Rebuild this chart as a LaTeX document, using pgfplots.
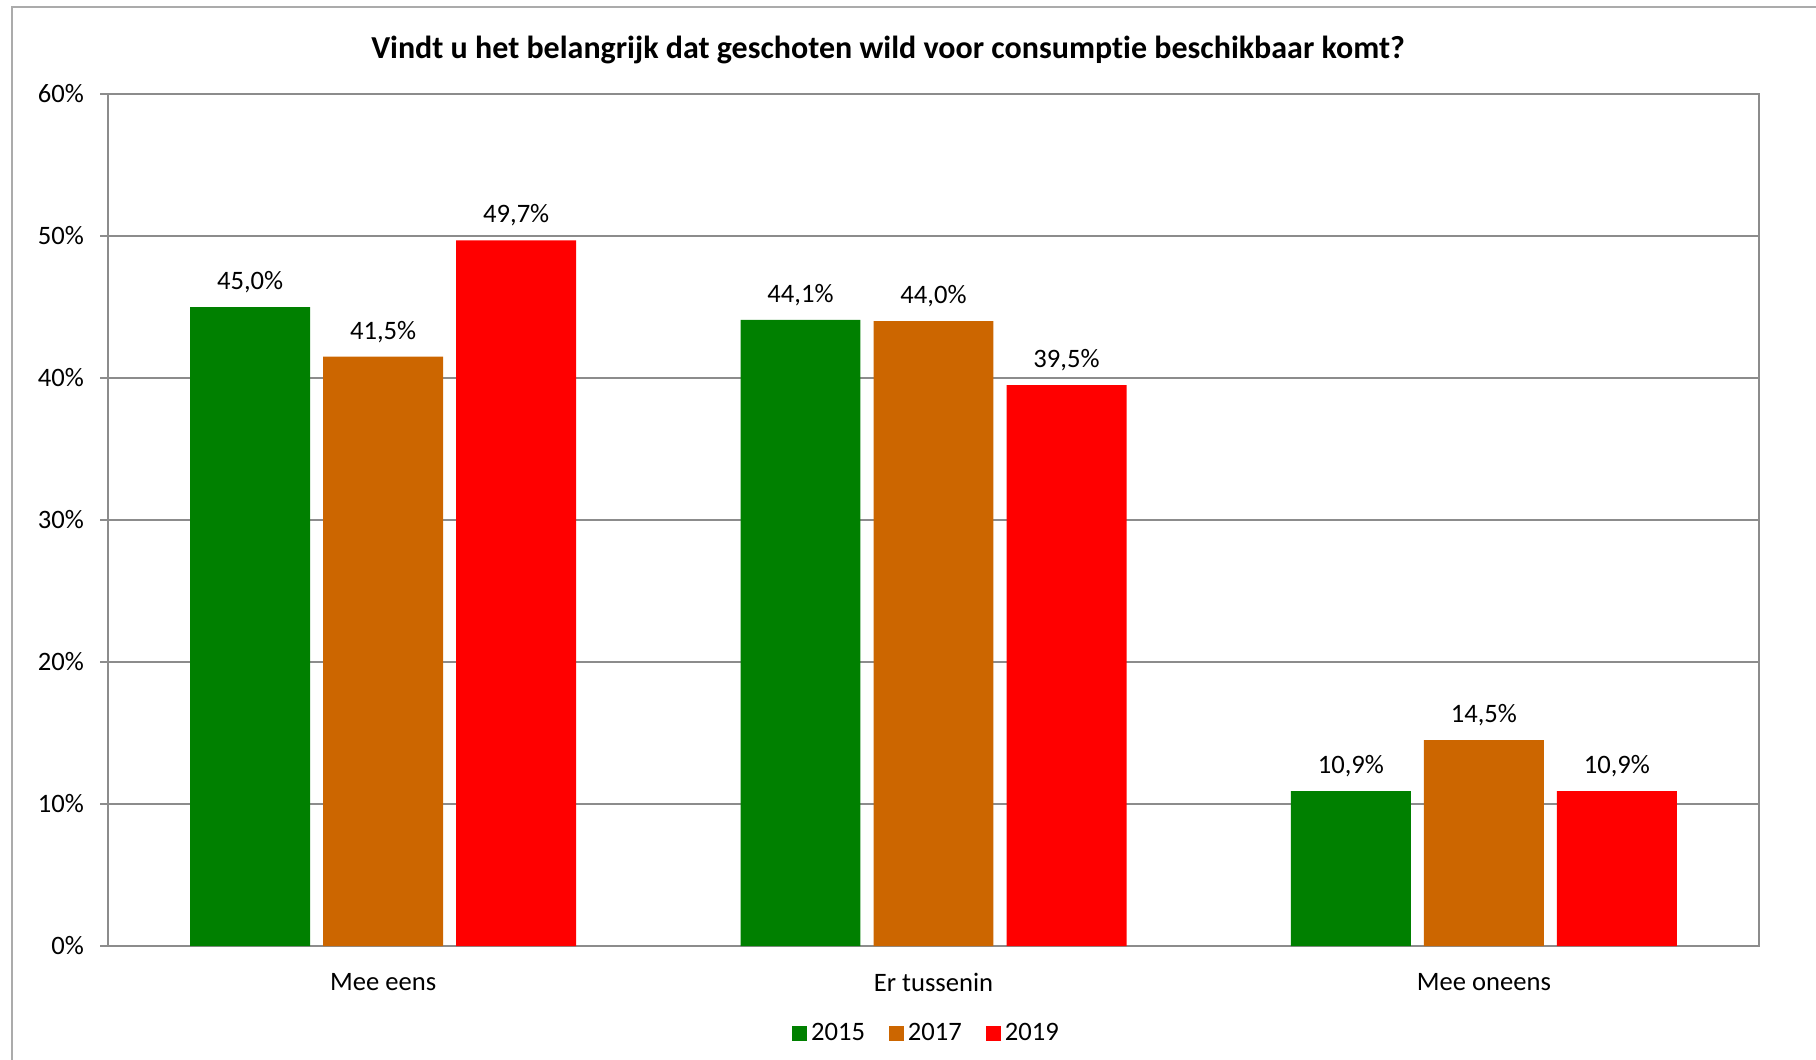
\documentclass[border=0pt]{standalone}
\usepackage{pgfplots}
\pgfplotsset{compat=1.18}
\usepackage{fontspec}
\setmainfont{Carlito}[Ligatures=CommonOff]
\definecolor{cGreen}{HTML}{008000}
\definecolor{cOrange}{HTML}{CC6600}
\definecolor{cRed}{HTML}{FF0000}
\definecolor{cAxis}{HTML}{8C8C8C}
\definecolor{cFrame}{HTML}{ABABAB}
\begin{document}
\begin{tikzpicture}
\useasboundingbox (0,0) rectangle (908bp,-530bp);
\draw[cFrame, line width=0.6bp] (6bp,-540bp) -- (6bp,-3.5bp) -- (920bp,-3.5bp);
\begin{axis}[
  at={(54bp,-473bp)}, anchor=south west,
  scale only axis, width=825.5bp, height=426bp,
  xmin=-0.5, xmax=2.5, ymin=0, ymax=60,
  axis line style={cAxis, line width=1bp},
  every tick/.style={cAxis, line width=1bp},
  tick align=outside, major tick length=4bp,
  xtick pos=bottom, ytick pos=left,
  xtick={0,1,2}, xticklabels={Mee eens, Er tussenin, Mee oneens},
  x tick style={draw=none},
  extra x ticks={-0.5,0.5,1.5,2.5}, extra x tick labels={},
  extra x tick style={tick style={cAxis, line width=1bp}, major tick length=4bp},
  ytick={0,10,...,60}, yticklabels={0\%,10\%,20\%,30\%,40\%,50\%,60\%},
  ymajorgrids, grid style={cAxis, line width=0.8bp},
  tick label style={font=\fontsize{13.3bp}{16bp}\selectfont, text=black},
  yticklabel style={xshift=-4.5bp},
  xticklabel style={yshift=-6bp},
  ybar, bar width=0.218,
  nodes near coords={\pgfmathprintnumber[fixed,fixed zerofill,precision=1,use comma,assume math mode=true]{\pgfplotspointmeta}\%},
  every node near coord/.append style={font=\fontsize{13.3bp}{16bp}\selectfont, text=black, anchor=south, yshift=3.5bp},
  legend columns=3,
  legend style={at={(0.4963,-0.103)}, anchor=center, draw=none, fill=none,
    font=\fontsize{13.3bp}{16bp}\selectfont,
    /tikz/every even column/.append style={column sep=10bp}},
  legend image code/.code={\fill[#1,draw=none] (0bp,-3.75bp) rectangle (7.5bp,3.75bp);},
]
\addplot[fill=cGreen, draw=none, bar shift=-0.2417] coordinates {(0,45.0) (1,44.1) (2,10.9)};
\addplot[fill=cOrange, draw=none, bar shift=0] coordinates {(0,41.5) (1,44.0) (2,14.5)};
\addplot[fill=cRed, draw=none, bar shift=0.2417] coordinates {(0,49.7) (1,39.5) (2,10.9)};
\legend{2015,2017,2019}
\end{axis}
\node[font=\bfseries\fontsize{16bp}{19bp}\selectfont, anchor=center] at (444bp,-25bp) {Vindt u het belangrijk dat geschoten wild voor consumptie beschikbaar komt?};
\end{tikzpicture}
\end{document}
